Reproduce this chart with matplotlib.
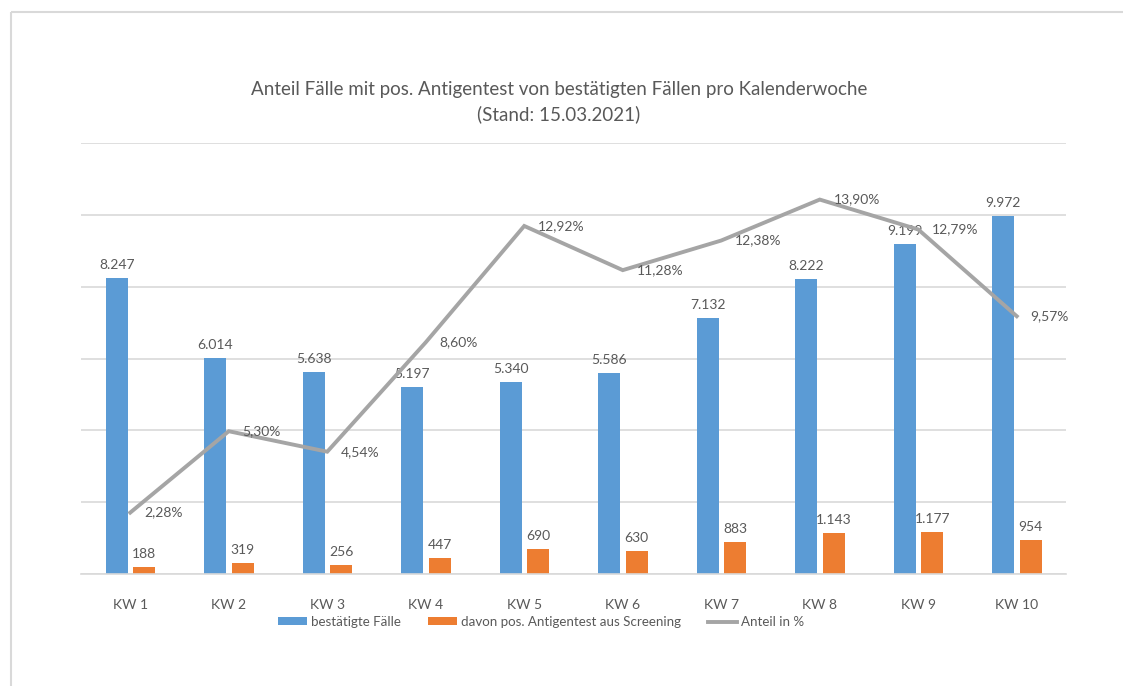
import matplotlib as mpl
mpl.use('Agg')
import matplotlib.pyplot as plt
from matplotlib.lines import Line2D
import numpy as np

weeks = ['KW 1', 'KW 2', 'KW 3', 'KW 4', 'KW 5', 'KW 6', 'KW 7', 'KW 8', 'KW 9', 'KW 10']
confirmed = [8247, 6014, 5638, 5197, 5340, 5586, 7132, 8222, 9199, 9972]
antigen = [188, 319, 256, 447, 690, 630, 883, 1143, 1177, 954]
share = [2.28, 5.30, 4.54, 8.60, 12.92, 11.28, 12.38, 13.90, 12.79, 9.57]

blue = '#5B9BD5'
orange = '#ED7D31'
grey = '#A5A5A5'
txt = '#595959'

plt.rcParams['font.family'] = ['Lato', 'DejaVu Sans']


def de_int(v):
    return '{:,}'.format(v).replace(',', '.')


def de_pct(v):
    return '{:.2f}%'.format(v).replace('.', ',')


fig = plt.figure(figsize=(11.23, 6.86), dpi=100)
W, H = 1123, 686

# outer chart frame: only top and left edges are inside the screenshot
fx, fy = 11.5 / W, (H - 11.5) / H
fig.add_artist(Line2D([fx, 1.05], [fy, fy], transform=fig.transFigure, color='#D9D9D9', linewidth=1.5,
                      solid_capstyle='butt'))
fig.add_artist(Line2D([fx, fx], [-0.05, fy], transform=fig.transFigure, color='#D9D9D9', linewidth=1.5,
                      solid_capstyle='butt'))

ax = fig.add_axes([81 / W, (H - 574) / H, (1066 - 81) / W, (574 - 143) / H])
x = np.arange(len(weeks))
bw = 0.22
ax.bar(x - 0.137, confirmed, bw, color=blue, label='bestätigte Fälle', zorder=2)
ax.bar(x + 0.142, antigen, bw, color=orange, label='davon pos. Antigentest aus Screening', zorder=2)

ax.set_xlim(-0.5, len(weeks) - 0.5)
ax.set_ylim(0, 12000)
ax.set_yticks(np.arange(0, 12001, 2000))
ax.yaxis.grid(True, color='#D9D9D9', linewidth=1.2, zorder=0)
ax.set_axisbelow(True)
ax.set_xticks(x)
ax.set_xticklabels(weeks)
for s in ['top', 'right', 'left']:
    ax.spines[s].set_visible(False)
ax.spines['bottom'].set_color('#D9D9D9')
ax.spines['bottom'].set_linewidth(1.2)

for i in range(len(weeks)):
    ax.annotate(de_int(confirmed[i]), (x[i] - 0.137, confirmed[i]), xytext=(0, 5), textcoords='offset points',
                ha='center', va='bottom', fontsize=10, color=txt)
    ax.annotate(de_int(antigen[i]), (x[i] + 0.142, antigen[i]), xytext=(0, 5), textcoords='offset points',
                ha='center', va='bottom', fontsize=10, color=txt)

ax2 = ax.twinx()
ax2.set_ylim(0, 16)
ax2.axis('off')
ln, = ax2.plot(x, share, color=grey, linewidth=2.8, label='Anteil in %', zorder=3,
               solid_joinstyle='miter')
for i in range(len(weeks)):
    ax2.annotate(de_pct(share[i]), (x[i], share[i]), xytext=(10, 0), textcoords='offset points',
                 ha='left', va='center', fontsize=10, color=txt)

# twinx turns the left ticks back on, so switch them off afterwards
ax.tick_params(axis='y', left=False, right=False, labelleft=False)
ax.tick_params(axis='x', length=0, pad=18, labelsize=10, labelcolor=txt)

fig.text(559 / W, (H - 90) / H, 'Anteil Fälle mit pos. Antigentest von bestätigten Fällen pro Kalenderwoche',
         ha='center', va='center', fontsize=13.5, color=txt)
fig.text(559 / W, (H - 114) / H, '(Stand: 15.03.2021)', ha='center', va='center', fontsize=13.5, color=txt)

h1, l1 = ax.get_legend_handles_labels()
fig.legend(h1 + [ln], l1 + ['Anteil in %'], loc='center', bbox_to_anchor=(541 / W, (H - 622) / H), ncol=3,
           frameon=False, fontsize=9.6, handlelength=2.2, handleheight=0.55, handletextpad=0.3,
           columnspacing=2.0, labelcolor=txt)

fig.savefig('out.png', dpi=100, facecolor='white')
plt.close()
